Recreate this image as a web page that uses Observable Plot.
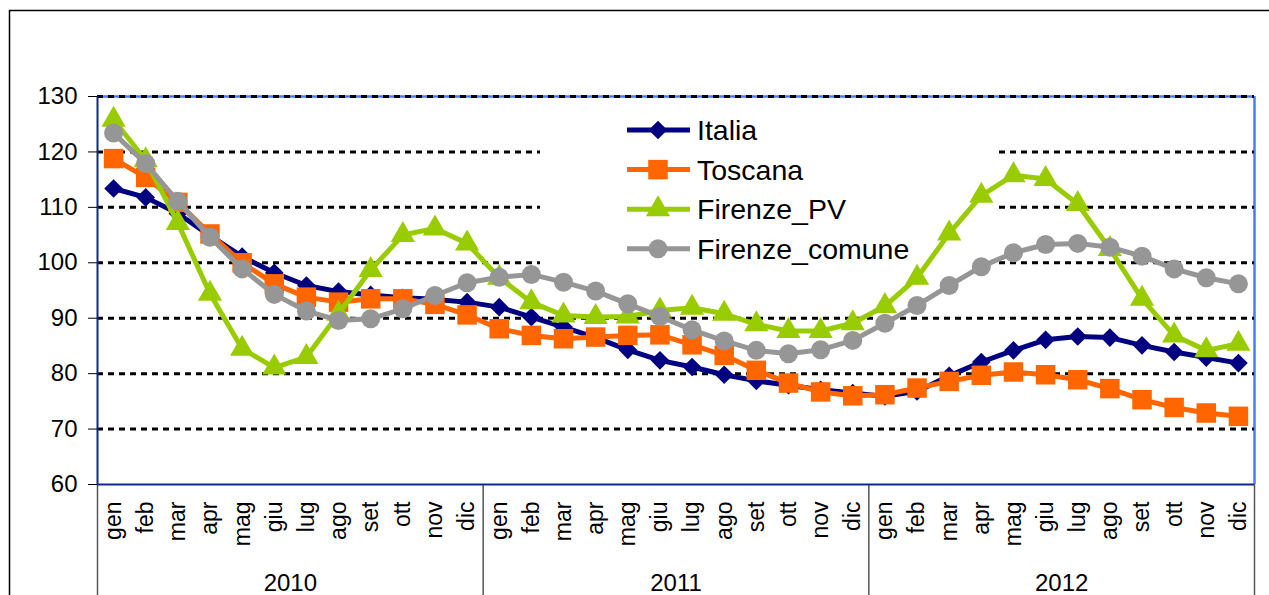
<!DOCTYPE html>
<html>
<head>
<meta charset="utf-8">
<script src="https://cdn.jsdelivr.net/npm/d3@7"></script>
<script src="https://cdn.jsdelivr.net/npm/@observablehq/plot@0.6"></script>
<style>
  body { margin: 0; background: #fff; }
  #chart { width: 1269px; height: 595px; overflow: hidden; }
  svg { display: block; }
</style>
</head>
<body>
<div id="chart"></div>
<script>
// ---- data ----
const months = ["gen","feb","mar","apr","mag","giu","lug","ago","set","ott","nov","dic"];
const years = ["2010","2011","2012"];
const yTicks = [60,70,80,90,100,110,120,130];
const gridValues = [70,80,90,100,110,120,130];

const seriesNames = ["Italia","Toscana","Firenze_PV","Firenze_comune"];
const seriesColors = ["#000080","#FF6600","#99CC00","#969696"];
const seriesSymbols = ["diamond2","square","triangle","circle"];
const seriesRadii = [8.4, 11, 9, 9.5];

const italia = [113.4,111.8,108.9,104.9,101.1,98.2,95.9,94.8,94.2,93.7,93.4,92.9,
                92.0,90.2,88.4,86.5,84.3,82.4,81.2,79.8,78.7,77.9,77.1,76.5,
                75.9,76.8,79.6,82.1,84.2,86.1,86.7,86.5,85.1,83.9,82.9,81.9];
const toscana = [118.8,115.4,110.9,105.2,100.0,96.2,93.8,92.9,93.5,93.5,92.5,90.6,
                 88.1,86.9,86.3,86.6,86.9,87.0,85.2,83.3,80.6,78.3,76.7,76.0,
                 76.2,77.4,78.6,79.7,80.3,79.8,78.9,77.3,75.3,73.9,72.9,72.3];
const firenzePV = [125.8,118.5,107.2,94.4,84.5,81.1,83.0,90.8,98.7,105.0,106.2,103.5,
                   97.3,92.9,90.5,90.2,90.3,91.4,91.9,90.8,88.9,87.7,87.7,89.1,
                   92.2,97.3,105.3,112.1,115.8,115.1,110.6,102.5,93.5,86.9,84.2,85.4];
const firenzeComune = [123.4,117.9,111.1,104.6,98.9,94.3,91.3,89.6,89.9,91.7,94.1,96.4,
                       97.4,97.9,96.5,94.9,92.6,90.3,87.9,85.9,84.2,83.6,84.3,86.0,
                       89.1,92.3,95.9,99.3,101.8,103.3,103.5,102.8,101.2,98.9,97.3,96.2];

const seriesValues = [italia, toscana, firenzePV, firenzeComune];

// ---- table built from the arrays ----
const nMonths = months.length * years.length;
const rows = [];
seriesNames.forEach((name, k) => {
  seriesValues[k].forEach((v, i) => rows.push({series: name, k, x: i + 0.5, v}));
});
const monthTicks = d3.range(nMonths).map(i => i + 0.5);
const yearBounds = d3.range(years.length + 1).map(j => j * months.length);
const yearCenters = years.map((y, j) => j * months.length + months.length / 2);

const font = "'Liberation Sans', Arial, sans-serif";

const seriesMarks = [];
seriesNames.forEach((name, k) => {
  const data = rows.filter(d => d.k === k);
  seriesMarks.push(
    Plot.line(data, {x: "x", y: "v", stroke: seriesColors[k], strokeWidth: 5, strokeLinejoin: "round"}),
    Plot.dot(data, {x: "x", y: "v", symbol: seriesSymbols[k], r: seriesRadii[k], fill: seriesColors[k], stroke: "none"})
  );
});

const plot = Plot.plot({
  width: 1269,
  height: 595,
  marginLeft: 97,
  marginRight: 15,
  marginTop: 96,
  marginBottom: 111,
  style: {background: "transparent", fontFamily: font, color: "#000", overflow: "visible"},
  x: {type: "linear", domain: [0, nMonths]},
  y: {type: "linear", domain: [60, 130]},
  marks: [
    Plot.ruleY([130], {stroke: "#4a7aff", strokeWidth: 2.5}),
    Plot.ruleX([nMonths], {stroke: "#4a7aff", strokeWidth: 2.5}),
    Plot.ruleY(gridValues, {stroke: "#000", strokeWidth: 3, strokeDasharray: "6,5"}),
    Plot.axisX(yearBounds, {tickSize: 111, tickFormat: () => "", stroke: "#555", strokeWidth: 1.5, label: null}),
    Plot.ruleX([0], {stroke: "#0d2a8a", strokeWidth: 2}),
    Plot.ruleY([60], {stroke: "#0d2a8a", strokeWidth: 2}),
    Plot.axisY(yTicks, {tickSize: 9, tickPadding: 11, fontSize: 24, stroke: "#000", label: null}),
    Plot.axisX(monthTicks, {tickSize: 0, tickPadding: 17, tickRotate: -90, fontSize: 23,
      tickFormat: d => months[Math.floor(d) % months.length], label: null}),
    Plot.axisX(yearCenters, {tickSize: 0, tickPadding: 89, fontSize: 24,
      tickFormat: d => years[Math.floor(d / months.length)], label: null}),
    ...seriesMarks
  ]
});

document.getElementById("chart").appendChild(plot);

// ---- outer chart frame ----
const ns = "http://www.w3.org/2000/svg";
const frame = document.createElementNS(ns, "path");
frame.setAttribute("d", "M9.5,595V10.5H1269");
frame.setAttribute("fill", "none");
frame.setAttribute("stroke", "#000");
frame.setAttribute("stroke-width", "1.5");
plot.insertBefore(frame, plot.firstChild);

// ---- legend box (white, over gridlines, under series) ----
const box = {x: 540, y: 104, w: 458, h: 172};
const ruleGroups = Array.from(plot.querySelectorAll("g")).filter(g =>
  g.getAttribute("aria-label") === "rule" && g.querySelectorAll("line").length === gridValues.length);
const grid = ruleGroups[0];
const bg = document.createElementNS(ns, "rect");
bg.setAttribute("x", box.x); bg.setAttribute("y", box.y);
bg.setAttribute("width", box.w); bg.setAttribute("height", box.h);
bg.setAttribute("fill", "#fff");
if (grid) grid.parentNode.insertBefore(bg, grid.nextSibling);

const symbolTypes = {diamond2: d3.symbolDiamond2, square: d3.symbolSquare, triangle: d3.symbolTriangle, circle: d3.symbolCircle};
const lg = d3.select(plot).append("g")
  .attr("font-family", font).attr("font-size", 28.5).attr("text-anchor", "start");
seriesNames.forEach((name, k) => {
  const cy = 130 + k * 39.6;
  const g = lg.append("g");
  g.append("line").attr("x1", 627).attr("x2", 690).attr("y1", cy).attr("y2", cy)
    .attr("stroke", seriesColors[k]).attr("stroke-width", 5);
  g.append("path").attr("transform", `translate(658,${cy})`)
    .attr("d", d3.symbol(symbolTypes[seriesSymbols[k]], Math.PI * seriesRadii[k] ** 2)())
    .attr("fill", seriesColors[k]);
  g.append("text").attr("x", 697).attr("y", cy).attr("dy", "0.35em")
    .attr("text-anchor", "start").attr("fill", "#000").text(name);
});
</script>
</body>
</html>
